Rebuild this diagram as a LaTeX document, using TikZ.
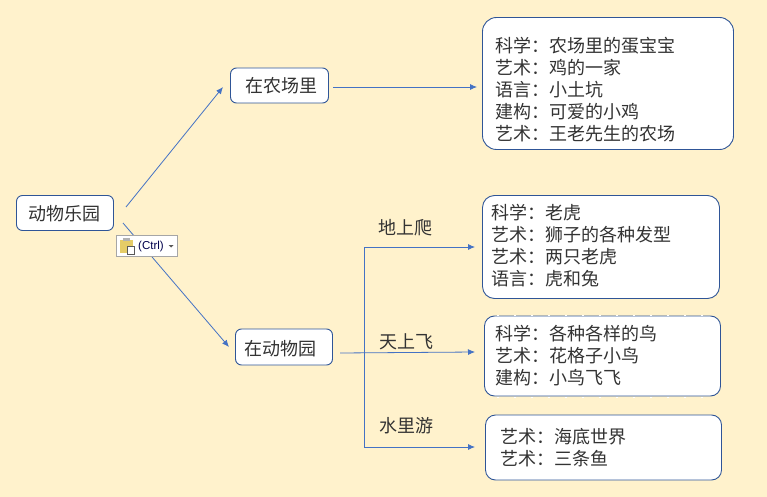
\documentclass[tikz,border=0pt]{standalone}
\usepackage{fontspec}
\setmainfont{Noto Sans CJK SC}
\newfontfamily\latinfont{Liberation Sans}
\usetikzlibrary{arrows.meta}
\definecolor{bgc}{HTML}{FFF2CC}
\definecolor{edgec}{HTML}{2F5597}
\definecolor{linec}{HTML}{4472C4}
\tikzset{x=1pt,y=-1pt,
 boxn/.style={draw=edgec,fill=white,line width=0.9pt,rounded corners=#1,inner sep=0pt,anchor=north west,outer sep=0pt},
 boxn/.default=6pt,
 txt/.style={font=\fontsize{18pt}{22pt}\selectfont,align=left,inner sep=0pt,text=black!80},
 conn/.style={linec,line width=0.8pt},
 arr/.style={conn,-{Latex[length=7pt,width=6pt]}},
 speck/.style={white,line width=0.7pt,dash pattern=on 2pt off 15pt}}
\begin{document}
\begin{tikzpicture}
\useasboundingbox (0,0) rectangle (767,497);
\fill[bgc] (0,0) rectangle (767,497);
% boxes
\node[boxn,minimum width=97pt,minimum height=35pt] (root) at (16.5,195.5) {};
\node[txt] (rootT) at (64,214) {动物乐园};
\node[boxn,minimum width=98pt,minimum height=35pt] (farm) at (230.5,68) {};
\node[txt] (farmT) at (281,86) {在农场里};
\node[boxn,minimum width=97pt,minimum height=36pt] (zoo) at (235.5,329) {};
\node[txt] (zooT) at (280,348.5) {在动物园};
\node[boxn=14pt,minimum width=251pt,minimum height=132pt] (b1) at (482.5,17.5) {};
\node[txt,anchor=north west] (b1T) at (495,37) {科学：农场里的蛋宝宝\\艺术：鸡的一家\\语言：小土坑\\建构：可爱的小鸡\\艺术：王老先生的农场};
\node[boxn=12pt,minimum width=237pt,minimum height=103pt] (b2) at (482.5,195.5) {};
\node[txt,anchor=north west] (b2T) at (491,204) {科学：老虎\\艺术：狮子的各种发型\\艺术：两只老虎\\语言：虎和兔};
\node[boxn=10pt,minimum width=236pt,minimum height=80pt] (b3) at (484.5,316) {};
\node[txt,anchor=north west] (b3T) at (495,325.5) {科学：各种各样的鸟\\艺术：花格子小鸟\\建构：小鸟飞飞};
\node[boxn=10pt,minimum width=236pt,minimum height=65pt] (b4) at (485.5,415) {};
\node[txt,anchor=north west] (b4T) at (500,428) {艺术：海底世界\\艺术：三条鱼};
% faint white specks along the third box
\coordinate (sp1) at (497,315);\coordinate (sp2) at (712,315);
\coordinate (sp3) at (497,397);\coordinate (sp4) at (712,397);
\draw[speck] (sp1) -- (sp2);
\draw[speck] (sp3) -- (sp4);
% labels
\node[txt] (l1) at (405,228) {地上爬};
\node[txt] (l2) at (406,342) {天上飞};
\node[txt] (l3) at (406,426) {水里游};
% connectors
\coordinate (s1) at (126,207);\coordinate (e1) at (223,87);
\coordinate (s2) at (123,223);\coordinate (e2) at (229,347);
\coordinate (s3) at (333,87);\coordinate (e3) at (477,87);
\coordinate (s4) at (340,353);\coordinate (e4) at (475,352);
\coordinate (j1) at (364,247);\coordinate (e5) at (475,247);
\coordinate (j2) at (364,447);\coordinate (e6) at (475,447);
\draw[arr] (s1) -- (e1);
\draw[arr] (s2) -- (e2);
\draw[arr] (s3) -- (e3);
\draw[arr] (s4) -- (e4);
\draw[arr] (e5 -| j1) -- (e5);
\draw[conn] (j1) -- (j2);
\draw[arr] (j2) -- (e6);
% paste tag
\node[draw=black!35,fill=white,line width=0.9pt,minimum width=61pt,minimum height=21pt,inner sep=0pt,anchor=north west,outer sep=0pt] (tag) at (116.5,235.5) {};
\fill[orange!40!yellow!55!white!90!black] (120,240) rectangle (133,253);
\fill[black!30] (123,238) rectangle (130,241);
\fill[white,draw=black!65,line width=0.5pt] (127,246) rectangle (134,254);
\node[font=\latinfont\fontsize{11.5pt}{12pt}\selectfont,inner sep=0pt,text=black!70!blue,anchor=west] (ctrl) at (138,246.5) {(Ctrl)};
\fill[black!65] (168.5,245) -- (173.5,245) -- (171,247.5) -- cycle;
\end{tikzpicture}
\end{document}
